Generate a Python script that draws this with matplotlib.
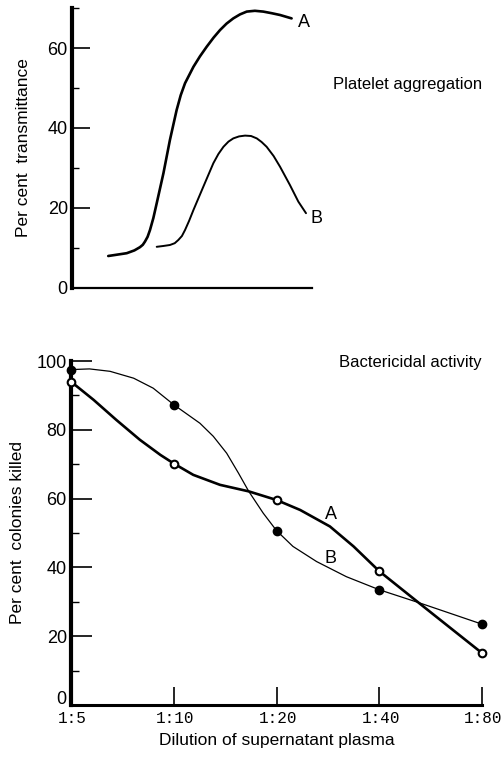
import matplotlib
matplotlib.use("Agg")
import matplotlib.pyplot as plt
from matplotlib.ticker import MultipleLocator
from matplotlib.transforms import ScaledTranslation

plt.rcParams['font.family'] = ['Liberation Sans', 'DejaVu Sans']

# ---- Top panel: platelet aggregation ----
top_a_x = [15.1, 22.8, 26.0, 28.3, 29.5, 30.4, 31.5, 32.5, 33.9, 35.3, 38.1, 40.8, 43.6, 45.3, 47.1, 50.6, 53.3, 56.1, 59.0, 61.7, 64.4, 67.2, 70.0, 72.8, 76.2, 79.7, 83.2, 86.7, 91.5]
top_a_y = [8.0, 8.7, 9.4, 10.2, 10.8, 11.6, 12.8, 14.5, 17.5, 21.2, 28.7, 37.0, 44.5, 48.2, 51.2, 55.3, 57.9, 60.3, 62.6, 64.5, 66.1, 67.4, 68.4, 69.1, 69.3, 69.1, 68.7, 68.25, 67.4]
top_b_x = [35.3, 38.0, 40.8, 42.8, 44.3, 45.8, 47.1, 48.8, 50.6, 54.7, 58.9, 61.0, 63.1, 65.2, 67.2, 69.6, 72.1, 74.6, 77.0, 79.0, 81.1, 84.0, 86.7, 90.8, 94.3, 97.5]
top_b_y = [10.3, 10.5, 10.75, 11.2, 12.0, 13.0, 14.5, 16.8, 19.5, 25.3, 31.2, 33.5, 35.3, 36.6, 37.4, 37.9, 38.1, 38.0, 37.4, 36.5, 35.3, 33.0, 30.3, 25.75, 21.6, 18.7]
top_yticks = [0, 20, 40, 60]

# ---- Bottom panel: bactericidal activity ----
dilutions = ['1:5', '1:10', '1:20', '1:40', '1:80']
killed_a = [94, 70.2, 59.6, 38.9, 15.1]   # open circles, thick line
killed_b = [97.5, 87.3, 50.7, 33.5, 23.5] # filled circles, thin line
# curve traces (position index, percent)
curve_a_x = [0, 0.22, 0.44, 0.67, 0.87, 1.0, 1.19, 1.45, 1.73, 2.0, 2.23, 2.52, 2.75, 3.0, 3.41, 4.0]
curve_a_y = [94, 88.7, 82.9, 77.1, 72.7, 70.2, 66.9, 64.0, 62.1, 59.6, 56.7, 51.9, 46.1, 38.9, 29.1, 15.1]
curve_b_x = [0, 0.18, 0.38, 0.61, 0.80, 1.0, 1.255, 1.385, 1.515, 1.63, 1.73, 1.87, 2.0, 2.16, 2.39, 2.68, 3.0, 3.4, 4.0]
curve_b_y = [97.5, 97.7, 97.0, 95.0, 92.1, 87.3, 81.9, 78.1, 73.2, 67.4, 62.1, 55.8, 50.7, 46.1, 41.7, 37.3, 33.5, 29.6, 23.5]
bottom_yticks = [0, 20, 40, 60, 80, 100]

fig = plt.figure(figsize=(5.04, 7.59), dpi=100)
fig.patch.set_facecolor('white')

lab_fs = 12.5
tick_fs = 13

# ---------- top axes ----------
ax1 = fig.add_axes([72/504, 1-288/759, 240/504, 280/759])
ax1.plot(top_a_x, top_a_y, color='black', lw=1.9, solid_capstyle='round', solid_joinstyle='round')
ax1.plot(top_b_x, top_b_y, color='black', lw=1.4, solid_capstyle='round', solid_joinstyle='round')
ax1.set_xlim(0, 100)
ax1.set_ylim(0, 70)
for s in ['top', 'right']:
    ax1.spines[s].set_visible(False)
ax1.spines['left'].set_linewidth(3.0)
ax1.spines['bottom'].set_linewidth(1.6)
ax1.set_xticks([])
ax1.set_yticks(top_yticks)
ax1.yaxis.set_minor_locator(MultipleLocator(10))
ax1.tick_params(axis='y', which='major', direction='in', length=13, width=1.2,
                labelsize=tick_fs, pad=3)
ax1.tick_params(axis='y', which='minor', direction='in', length=5, width=1.0)
ax1.set_ylabel('Per cent  transmittance', fontsize=lab_fs, labelpad=12)
ax1.text(96.7, 66.3, 'A', fontsize=13, ha='center', va='center', clip_on=False)
ax1.text(101.7, 17.4, 'B', fontsize=13, ha='center', va='center', clip_on=False)
fig.text(482/504, 1-85/759, 'Platelet aggregation', fontsize=12, ha='right', va='center')

# ---------- bottom axes ----------
ax2 = fig.add_axes([71/504, 1-705/759, 411/504, 344/759])
xs = list(range(len(dilutions)))
ax2.plot(curve_a_x, curve_a_y, color='black', lw=1.9, clip_on=False, solid_joinstyle='round')
ax2.plot(curve_b_x, curve_b_y, color='black', lw=0.9, clip_on=False, solid_joinstyle='round')
ax2.plot(xs, killed_a, linestyle='none', marker='o', ms=5.5, mfc='white',
         mec='black', mew=1.5, clip_on=False, zorder=5)
ax2.plot(xs, killed_b, linestyle='none', marker='o', ms=6, mfc='black',
         mec='black', clip_on=False, zorder=5)
ax2.set_xlim(0, 4)
ax2.set_ylim(0, 100)
for s in ['top', 'right']:
    ax2.spines[s].set_visible(False)
ax2.spines['left'].set_linewidth(3.0)
ax2.spines['bottom'].set_linewidth(2.2)
ax2.set_xticks(xs)
ax2.set_xticklabels(dilutions, family=['Liberation Mono', 'DejaVu Sans Mono'], fontsize=11.5)
ax2.set_yticks(bottom_yticks)
ax2.yaxis.set_minor_locator(MultipleLocator(10))
ax2.tick_params(axis='y', which='major', direction='in', length=15, width=1.2,
                labelsize=tick_fs, pad=3)
ax2.tick_params(axis='y', which='minor', direction='in', length=6, width=1.0)
ax2.tick_params(axis='x', which='major', direction='in', length=13, width=1.2, pad=4)
shift = ScaledTranslation(1.5/100, 0, fig.dpi_scale_trans)
for lbl in ax2.get_xticklabels():
    lbl.set_transform(lbl.get_transform() + shift)
ylbls = ax2.get_yticklabels()
ylbls[0].set_transform(ylbls[0].get_transform() + ScaledTranslation(0, 8/100, fig.dpi_scale_trans))
ax2.set_ylabel('Per cent  colonies killed', fontsize=lab_fs, labelpad=8)
ax2.set_xlabel('Dilution of supernatant plasma', fontsize=12.5, labelpad=5)
ax2.text(2.53, 55.3, 'A', fontsize=13, ha='center', va='center')
ax2.text(2.53, 42.6, 'B', fontsize=13, ha='center', va='center')
fig.text(482/504, 1-362/759, 'Bactericidal activity', fontsize=12, ha='right', va='center')

fig.savefig('out.png', dpi=100, facecolor='white')
